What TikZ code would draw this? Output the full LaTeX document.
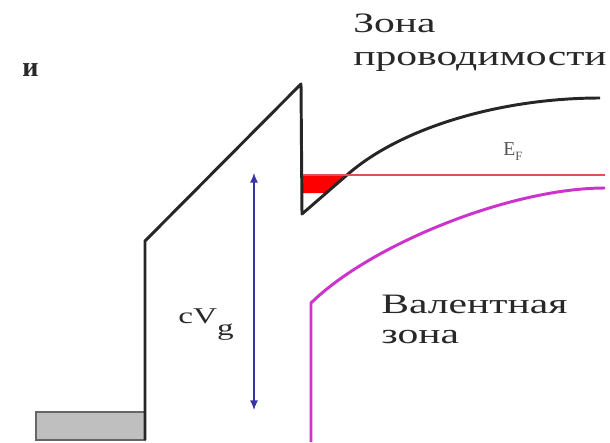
\documentclass[tikz,border=0pt]{standalone}
\usepackage{fontspec}
\setmainfont{Liberation Serif}
\newfontfamily\widefont[FakeStretch=1.48]{Liberation Serif}
\usetikzlibrary{arrows.meta}
\definecolor{textgray}{HTML}{282828}
\definecolor{bandpink}{HTML}{CC33CC}
\definecolor{fermired}{HTML}{E05050}
\definecolor{arrowblue}{HTML}{3535A5}

\begin{document}
\begin{tikzpicture}[x=0.025cm, y=-0.025cm,
    band/.style={line width=2.1pt, line join=round},
    bigtext/.style={anchor=base west, inner sep=0pt, text=textgray, font=\widefont\fontsize{20}{23}\selectfont}]
    \useasboundingbox (0,0) rectangle (610,442);
    % 金属電極
    \fill[black!25] (36,412) rectangle (145,440);
    \draw[line width=1.4pt, black!60] (36,412) rectangle (145,440);
    % 蓄積された電子
    \fill[red] (303,175) -- (347,175) -- (327,193) -- (303,193) -- cycle;
    % 伝導帯
    \draw[band, black!85] (145,440) -- (145,241) -- (301,84) -- (302,214) -- (347,175)
        .. controls (400,128) and (500,98) .. (600,98);
    % フェルミ準位
    \draw[line width=0.8pt, fermired] (303,175) -- (605,175);
    % 価電子帯
    \draw[band, bandpink] (311,442) -- (311,303) .. controls (370,245) and (510,188) .. (605,188);
    % 電圧
    \coordinate (vtop) at (254,173);
    \coordinate (vbot) at (254,410);
    \draw[line width=0.9pt, arrowblue, {Latex[length=2.4mm,width=2mm]}-{Latex[length=2.4mm,width=2mm]}] (vtop) -- (vbot);
    \node[bigtext, font=\widefont\fontsize{16}{18}\selectfont] (vg) at (178,323) {cV\raisebox{-9pt}{g}};
    \node[anchor=base west, inner sep=0pt, text=textgray!80, font=\fontsize{14}{16}\selectfont] (ef) at (503,155)
        {E\raisebox{-4pt}{\fontsize{9}{10}\selectfont F}};
    % ラベル
    \node[anchor=base west, inner sep=0pt, text=textgray, font=\bfseries\fontsize{20}{23}\selectfont] (mark) at (22,76) {и};
    \node[bigtext] (cb1) at (353,32) {Зона};
    \node[bigtext] (cb2) at (353,65) {проводимости};
    \node[bigtext] (vb1) at (381,313) {Валентная};
    \node[bigtext] (vb2) at (381,343) {зона};
  \end{tikzpicture}
\end{document}
